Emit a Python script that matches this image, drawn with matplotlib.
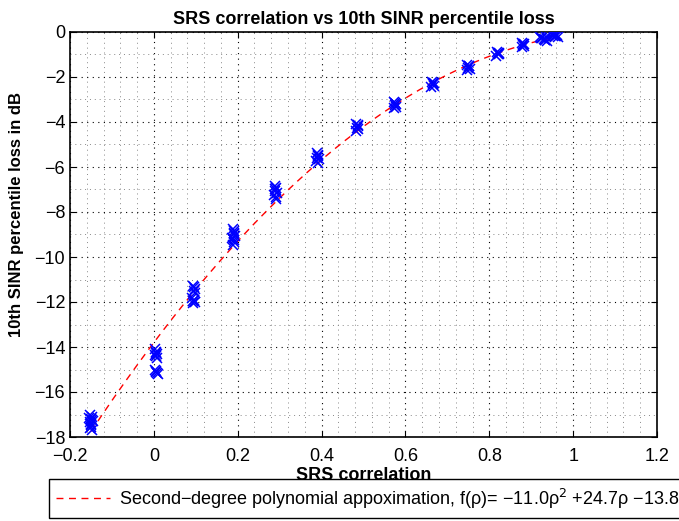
import numpy as np
from matplotlib import pyplot as plt
from matplotlib.ticker import MultipleLocator

plt.rcParams['font.family'] = ['Liberation Sans', 'DejaVu Sans']
plt.rcParams['font.size'] = 13

# cluster centres on the x axis (SRS correlation)
rho_centres = [-0.150, 0.005, 0.095, 0.190, 0.290, 0.390, 0.485,
               0.575, 0.665, 0.750, 0.820, 0.880, 0.930, 0.955]

# small spread in correlation around each centre
rho_spread = [
    [-0.003, 0.002, 0.000, 0.004, -0.002, 0.001, -0.001, 0.003, -0.004, 0.002, 0.000, -0.002],
    [-0.002, 0.001, 0.003, -0.001, 0.002, -0.003, 0.000, 0.002, 0.004, -0.002, 0.001, -0.001],
    [-0.002, 0.002, 0.000, 0.003, -0.003, 0.001, 0.002, -0.001, 0.000, -0.002],
    [-0.002, 0.002, 0.000, 0.003, -0.003, 0.001, 0.002, -0.001, 0.000, -0.002],
    [-0.002, 0.002, 0.000, 0.003, -0.003, 0.001, 0.002, -0.001],
    [-0.002, 0.002, 0.000, 0.003, -0.003, 0.001, 0.002],
    [-0.002, 0.002, 0.000, 0.003, -0.003, 0.001],
    [-0.002, 0.002, 0.000, 0.003, -0.003, 0.001],
    [-0.002, 0.002, 0.000, 0.003, -0.003, 0.001],
    [-0.002, 0.002, 0.000, 0.003, -0.003, 0.001],
    [-0.002, 0.002, 0.000, 0.003, -0.003, 0.001],
    [-0.002, 0.002, 0.000, 0.003, -0.003, 0.001],
    [-0.008, -0.004, 0.000, 0.004, 0.008, -0.006, 0.006, 0.002],
    [-0.008, -0.004, 0.000, 0.004, 0.008, -0.006, 0.006, 0.002, -0.002],
]

# 10th percentile SINR loss (dB) per cluster
sinr_loss = [
    [-17.00, -17.10, -17.20, -17.30, -17.35, -17.45, -17.55, -17.70, -17.15, -17.25, -17.40, -17.60],
    [-14.10, -14.20, -14.30, -14.40, -14.50, -15.00, -15.10, -15.15, -15.20, -14.35, -14.25, -15.05],
    [-11.30, -11.40, -11.50, -11.60, -11.80, -11.90, -12.00, -12.05, -11.35, -11.95],
    [-8.75, -8.85, -8.95, -9.05, -9.15, -9.25, -9.35, -9.45, -9.00, -9.20],
    [-6.85, -6.95, -7.05, -7.15, -7.25, -7.35, -7.42, -7.00],
    [-5.40, -5.50, -5.58, -5.66, -5.75, -5.82, -5.45],
    [-4.10, -4.18, -4.25, -4.32, -4.40, -4.15],
    [-3.10, -3.18, -3.25, -3.32, -3.40, -3.15],
    [-2.22, -2.28, -2.33, -2.38, -2.45, -2.25],
    [-1.45, -1.52, -1.58, -1.64, -1.70, -1.50],
    [-0.90, -0.94, -0.97, -1.00, -1.05, -0.92],
    [-0.50, -0.54, -0.58, -0.62, -0.65, -0.52],
    [-0.22, -0.26, -0.30, -0.34, -0.38, -0.28, -0.24, -0.36],
    [-0.05, -0.10, -0.14, -0.18, -0.22, -0.08, -0.12, -0.16, -0.20],
]

# fitted polynomial coefficients (rho^2, rho, const)
poly_coeffs = [-11.0, 24.7, -13.8]

fig = plt.figure(figsize=(6.79, 5.21), dpi=100)
ax = fig.add_axes([70 / 679, 1 - 437 / 521, 587 / 679, 405 / 521])

rho = np.linspace(rho_centres[0], rho_centres[-1] + 0.01, 200)
ax.plot(rho, np.polyval(poly_coeffs, rho), color='red', linestyle=(0, (5, 4)),
        linewidth=1.0, zorder=2,
        label='Second\u2212degree polynomial appoximation, f(\u03c1)= \u221211.0\u03c1$^2$ +24.7\u03c1 \u221213.8')

for c, dx, ys in zip(rho_centres, rho_spread, sinr_loss):
    ax.plot(np.array(dx) + c, ys, 'x', color='blue', markersize=7, markeredgewidth=1.1, zorder=3)

ax.set_xlim(-0.2, 1.2)
ax.set_ylim(-18, 0)
ax.xaxis.set_minor_locator(MultipleLocator(0.04))
ax.yaxis.set_minor_locator(MultipleLocator(1))
ax.set_xticks([-0.2, 0, 0.2, 0.4, 0.6, 0.8, 1, 1.2])
ax.set_xticklabels(['\u22120.2', '0', '0.2', '0.4', '0.6', '0.8', '1', '1.2'])
ax.set_yticks(list(range(-18, 1, 2)))
ax.set_yticklabels(['\u2212%d' % -v if v < 0 else '0' for v in range(-18, 1, 2)])

ax.grid(which='major', color='black', linestyle=(0, (1, 4)), linewidth=0.8)
ax.grid(which='minor', color='#888888', linestyle=(0, (1, 4)), linewidth=0.7)
ax.tick_params(which='both', direction='in', top=True, right=True, labelsize=13)
ax.tick_params(which='major', length=4)
ax.tick_params(axis='x', which='major', pad=8)
ax.tick_params(which='minor', length=0)
for s in ax.spines.values():
    s.set_linewidth(1.2)

ax.set_title('SRS correlation vs 10th SINR percentile loss', fontsize=13, fontweight='bold', pad=6)
ax.set_xlabel('SRS correlation', fontsize=13, fontweight='bold', labelpad=1)
ax.set_ylabel('10th SINR percentile loss in dB', fontsize=12, fontweight='bold')
ax.yaxis.set_label_coords(-0.078, 0.55)

leg = fig.legend(loc='lower left', bbox_to_anchor=(49 / 679, 3 / 521), fontsize=13,
                 handlelength=3.0, fancybox=False, edgecolor='black', framealpha=1,
                 borderpad=0.4, handletextpad=0.45, borderaxespad=0)
leg.get_frame().set_linewidth(1.0)

fig.savefig('out.png', dpi=100)
